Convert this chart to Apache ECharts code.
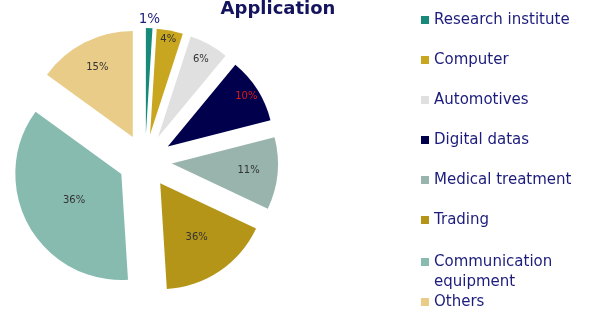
<!DOCTYPE html>
<html><head><meta charset="utf-8">
<script src="https://cdn.jsdelivr.net/npm/echarts@6/dist/echarts.min.js"></script>
<style>html,body{margin:0;padding:0;background:#fff}#c{width:600px;height:332px}</style>
</head><body><div id="c"></div>
<script>
// ---- data ----
const categories = ['Research institute','Computer','Automotives','Digital datas','Medical treatment','Trading','Communication equipment','Others'];
const shares = [1, 4, 6, 10, 11, 17, 36, 15];
const labelTexts = ['1%','4%','6%','10%','11%','36%','36%','15%'];

// ---- styles ----
const colors = ['#178a7a','#c9a61f','#e0e0e0','#00004d','#99b4ad','#b49517','#87bbb0','#e8cc88'];
const labelColors = ['#1f1f7d','#333333','#333333','#e01818','#333333','#333333','#333333','#333333'];
const labelSizes = [13.5,10,10,10,10,10,10,10];
const labelDist = [112, 94, 86, 90, 74, 62, 51, 75];
const CENTER = [145, 161], R = 106, OFFSET = 27;
const FONT = 'DejaVu Sans';
const NAVY = '#1c1c7c';

const chart = echarts.init(document.getElementById('c'), null, {renderer:'canvas'});

const series = [{
  type:'pie', center:CENTER, radius:[0,R], startAngle:90, clockwise:true,
  selectedMode:'multiple', selectedOffset:OFFSET, silent:true,
  label:{show:false}, labelLine:{show:false}, emphasis:{disabled:true},
  itemStyle:{borderWidth:0},
  data: categories.map((n,i)=>({name:n, value:shares[i], selected:true, itemStyle:{color:colors[i]}}))
}];
categories.forEach((name,i)=>{
  series.push({
    type:'pie', center:CENTER, radius:[labelDist[i]-4, labelDist[i]+4], startAngle:90, clockwise:true,
    selectedMode:'multiple', selectedOffset:OFFSET, silent:true,
    itemStyle:{color:'rgba(0,0,0,0)', borderWidth:0},
    labelLine:{show:false}, emphasis:{disabled:true},
    label:{show:false},
    data: categories.map((n,k)=>({name:n, value:shares[k], selected:true,
      label: k===i ? {show:true, position:'inside', formatter:labelTexts[k], color:labelColors[k],
                      fontSize:labelSizes[k], fontFamily:FONT} : {show:false}}))
  });
});

chart.setOption({
  animation:false,
  backgroundColor:'#ffffff',
  title:{text:'Application', left:278, textAlign:'center', top:0, padding:0,
         textStyle:{fontFamily:FONT, fontWeight:'bold', fontSize:18, color:'#14145e'}},
  legend:[{
    orient:'vertical', left:421, top:10, padding:0, itemGap:20,
    icon:'rect', itemWidth:8, itemHeight:8, itemStyle:{borderWidth:0},
    textStyle:{fontFamily:FONT, fontSize:15, color:NAVY, lineHeight:20},
    data: categories.slice(0,6)
  },{
    orient:'vertical', left:421, top:232, padding:0, itemGap:0,
    icon:'rect', itemWidth:8, itemHeight:8, itemStyle:{borderWidth:0},
    formatter: name => name.indexOf(' ') > 0 ? '\n' + name.replace(' ', '\n') : name,
    textStyle:{fontFamily:FONT, fontSize:15, color:NAVY, lineHeight:20},
    data: categories.slice(6)
  }],
  series: series
});
</script></body></html>
